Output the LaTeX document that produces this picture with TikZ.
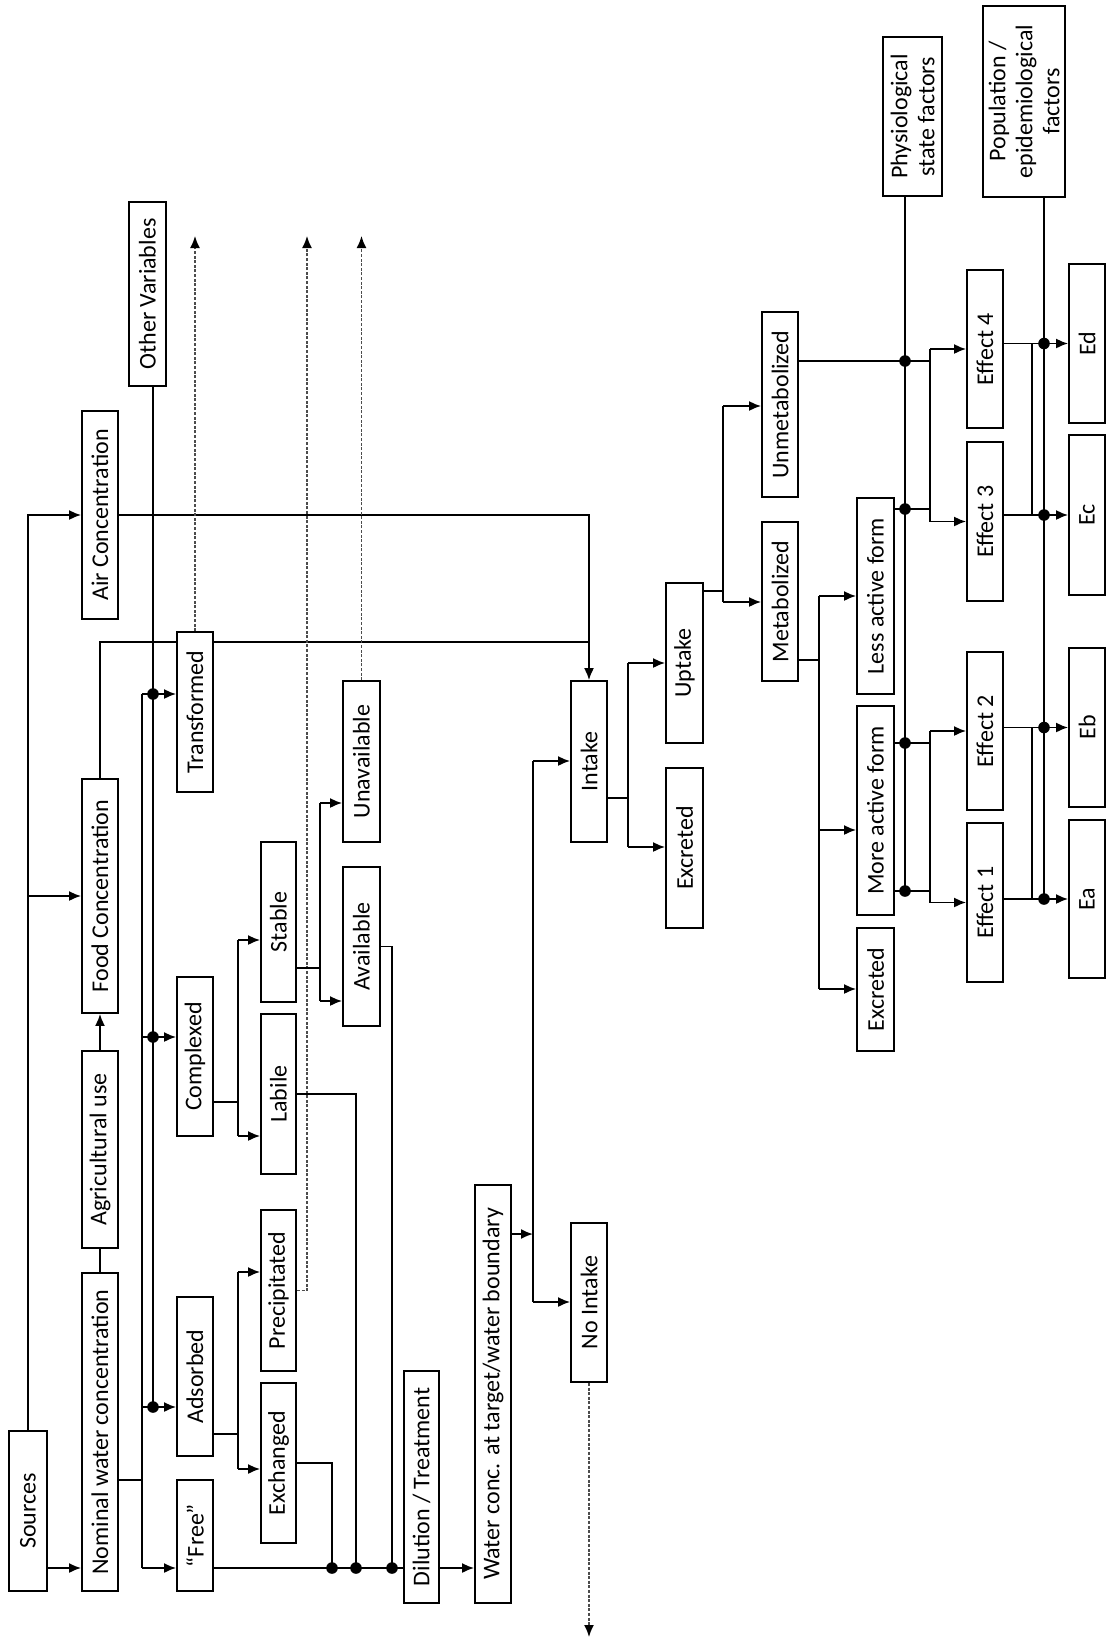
\documentclass[tikz,border=0pt]{standalone}
\usepackage{fontspec}
\setmainfont{Carlito}
\usetikzlibrary{arrows.meta,fit,backgrounds}
\tikzset{
  bx/.style={draw, line width=0.9pt, fill=white, inner sep=0pt, rectangle},
  lbl/.style={rotate=90, font=\fontsize{12}{13.5}\selectfont, align=center, inner sep=0pt},
  ln/.style={line width=0.9pt},
  arr/.style={ln, -{Latex[length=6pt,width=5pt]}},
  dsh/.style={line width=0.8pt, black!70, dash pattern=on 1.5pt off 0.8pt, -{Latex[length=6pt,width=5pt,color=black]}},
}
\newcommand\mybox[4]{\node[bx, fit={(#2)(#3)}, label={[lbl]center:#4}] (#1) {};}
\newcommand\jdot[1]{\fill (#1) circle (2.9pt);}
\begin{document}
\begin{tikzpicture}[x=0.5pt,y=-0.5pt]
\useasboundingbox (0,0) rectangle (1107,1644);
\mybox{src}{9,1431}{47,1591}{Sources}
\mybox{nom}{82,1273}{118,1591}{Nominal water concentration}
\mybox{agr}{82,1051}{118,1248}{Agricultural use}
\mybox{food}{82,779}{118,1013}{Food Concentration}
\mybox{air}{82,411}{118,619}{Air Concentration}
\mybox{oth}{129,202}{166,386}{Other Variables}
\mybox{trans}{177,632}{213,792}{Transformed}
\mybox{comp}{177,977}{213,1136}{Complexed}
\mybox{ads}{177,1297}{213,1456}{Adsorbed}
\mybox{free}{177,1480}{213,1591}{“Free”}
\mybox{stab}{261,842}{296,1002}{Stable}
\mybox{lab}{261,1014}{296,1174}{Labile}
\mybox{prec}{261,1210}{296,1371}{Precipitated}
\mybox{exch}{261,1383}{296,1543}{Exchanged}
\mybox{unav}{343,681}{380,842}{Unavailable}
\mybox{avail}{343,867}{380,1026}{Available}
\mybox{dil}{404,1371}{439,1603}{Dilution / Treatment}
\mybox{water}{475,1185}{511,1603}{Water conc. at target/water boundary}
\mybox{intake}{571,681}{607,842}{Intake}
\mybox{noin}{571,1223}{607,1382}{No Intake}
\mybox{upt}{666,583}{703,743}{Uptake}
\mybox{excra}{666,768}{703,928}{Excreted}
\mybox{unmet}{762,312}{798,497}{Unmetabolized}
\mybox{met}{762,522}{798,681}{Metabolized}
\mybox{less}{857,498}{894,694}{Less active form}
\mybox{more}{857,706}{894,915}{More active form}
\mybox{excrb}{857,928}{894,1051}{Excreted}
\mybox{phys}{883,37}{942,196}{Physiological\\state factors}
\mybox{pop}{983,6}{1065,197}{Population /\\epidemiological\\factors}
\mybox{effd}{967,270}{1003,428}{Effect 4}
\mybox{effc}{967,442}{1003,601}{Effect 3}
\mybox{effb}{967,652}{1003,810}{Effect 2}
\mybox{effa}{967,823}{1003,982}{Effect 1}
\mybox{ed}{1069,264}{1105,423}{Ed}
\mybox{ec}{1069,435}{1105,595}{Ec}
\mybox{eb}{1069,648}{1105,807}{Eb}
\mybox{ea}{1069,820}{1105,978}{Ea}
\begin{scope}[on background layer]
\fill[white] (0,0) rectangle (1107,1644);
% sources
\draw[arr] (src.north) -- (src.north |- air.west) -- (air.west);
\draw[arr] (src.north |- food.west) -- (food.west);
\draw[arr] (src.east |- 0,1568) -- (nom.west |- 0,1568);
\draw[ln] (nom.north) -- (agr.south);
\draw[arr] (agr.north) -- (food.south);
\draw[ln] (food.north) -- (food.north |- 0,642) -- (intake.north |- 0,642);
\draw[arr] (air.east) -- (intake.north |- air.east) -- (intake.north);
\draw[ln] (oth.south -| 153,0) -- (153,1407);
% nominal split
\draw[ln] (nom.east |- 0,1480) -- (142,1480);
\draw[ln] (142,694) -- (142,1568);
\draw[arr] (142,694) -- (trans.west |- 0,694);
\draw[arr] (142,1037) -- (comp.west |- 0,1037);
\draw[arr] (142,1407) -- (ads.west |- 0,1407);
\draw[arr] (142,1568) -- (free.west |- 0,1568);
\draw[dsh] (trans.north) -- (trans.north |- 0,236);
% complexed
\draw[ln] (comp.east |- 0,1102) -- (238,1102);
\draw[ln] (238,940) -- (238,1136);
\draw[arr] (238,940) -- (stab.west |- 0,940);
\draw[arr] (238,1136) -- (lab.west |- 0,1136);
% adsorbed
\draw[ln] (ads.east |- 0,1434) -- (238,1434);
\draw[ln] (238,1272) -- (238,1469);
\draw[arr] (238,1272) -- (prec.west |- 0,1272);
\draw[arr] (238,1469) -- (exch.west |- 0,1469);
\draw[ln] (exch.east |- 0,1463) -- (332,1463) -- (332,1568);
\draw[dsh] (prec.east) -- (prec.east -| 307,0) -- (307,236);
\draw[ln] (lab.east) -- (lab.east -| 356,0) -- (356,1568);
% stable
\draw[ln] (stab.east |- 0,968) -- (320,968);
\draw[ln] (320,803) -- (320,1001);
\draw[arr] (320,803) -- (unav.west |- 0,803);
\draw[arr] (320,1001) -- (avail.west |- 0,1001);
\draw[dsh] (unav.north) -- (unav.north |- 0,236);
\draw[ln] (avail.east) -- (avail.east -| 392,0) -- (392,1568);
% free line
\draw[ln] (free.east |- 0,1568) -- (dil.west |- 0,1568);
\draw[arr] (dil.east |- 0,1568) -- (water.west |- 0,1568);
% water
\draw[arr] (water.east |- 0,1234) -- (533,1234);
\draw[ln] (533,761) -- (533,1302);
\draw[arr] (533,761) -- (intake.west |- 0,761);
\draw[arr] (533,1302) -- (noin.west |- 0,1302);
\draw[dsh] (noin.south) -- (noin.south |- 0,1637);
% intake
\draw[ln] (intake.east |- 0,798) -- (628,798);
\draw[ln] (628,663) -- (628,847);
\draw[arr] (628,663) -- (upt.west |- 0,663);
\draw[arr] (628,847) -- (excra.west |- 0,847);
% uptake
\draw[ln] (upt.east |- 0,591) -- (723,591);
\draw[ln] (723,406) -- (723,602);
\draw[arr] (723,406) -- (unmet.west |- 0,406);
\draw[arr] (723,602) -- (met.west |- 0,602);
% metabolized
\draw[ln] (met.east |- 0,660) -- (819,660);
\draw[ln] (819,596) -- (819,989);
\draw[arr] (819,596) -- (less.west |- 0,596);
\draw[arr] (819,830) -- (more.west |- 0,830);
\draw[arr] (819,989) -- (excrb.west |- 0,989);
% physiological
\draw[ln] (phys.south -| 905,0) -- (905,891);
\draw[ln] (unmet.east |- 0,361) -- (930,361);
\draw[ln] (less.east |- 0,509) -- (930,509);
\draw[ln] (effd.west -| 930,0) -- (effc.west -| 930,0);
\draw[arr] (effd.west -| 930,0) -- (effd.west);
\draw[arr] (effc.west -| 930,0) -- (effc.west);
\draw[ln] (more.east |- 0,743) -- (930,743);
\draw[ln] (more.east |- 0,891) -- (930,891);
\draw[ln] (effb.west -| 930,0) -- (effa.west -| 930,0);
\draw[arr] (effb.west -| 930,0) -- (effb.west);
\draw[arr] (effa.west -| 930,0) -- (effa.west);
% population
\draw[ln] (pop.south -| 1044,0) -- (1044,899);
\draw[arr] (effd.east |- ed.west) -- (ed.west);
\draw[arr] (effc.east |- ec.west) -- (ec.west);
\draw[ln] (ed.west -| 1032,0) -- (ec.west -| 1032,0);
\draw[arr] (effb.east |- eb.west) -- (eb.west);
\draw[arr] (effa.east |- ea.west) -- (ea.west);
\draw[ln] (eb.west -| 1032,0) -- (ea.west -| 1032,0);
\end{scope}
\jdot{153,694}
\jdot{153,1037}
\jdot{153,1407}
\jdot{332,1568}
\jdot{356,1568}
\jdot{392,1568}
\jdot{905,361}
\jdot{905,509}
\jdot{905,743}
\jdot{905,891}
\jdot{1044,343.5}
\jdot{1044,515}
\jdot{1044,727.5}
\jdot{1044,899}
\end{tikzpicture}
\end{document}
